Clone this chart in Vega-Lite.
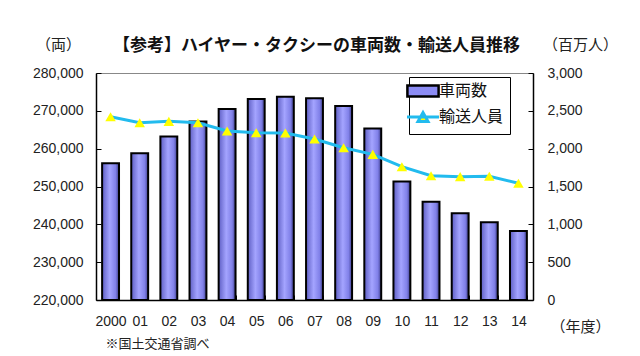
{
  "$schema": "https://vega.github.io/schema/vega-lite/v6.json",
  "width": 437,
  "height": 227,
  "autosize": {"type": "none"},
  "padding": {"left": 96, "top": 73, "right": 107, "bottom": 56},
  "background": "white",
  "title": {
    "text": "【参考】ハイヤー・タクシーの車両数・輸送人員推移",
    "font": "Noto Sans CJK JP",
    "fontSize": 17,
    "fontWeight": "bold",
    "color": "#111",
    "anchor": "middle",
    "dx": 2,
    "offset": -18
  },
  "data": {
    "values": [
      {"label": "2000", "vehicles": 256150, "passengers": 2422, "series": "輸送人員"},
      {"label": "01", "vehicles": 258800, "passengers": 2343, "series": "輸送人員"},
      {"label": "02", "vehicles": 263200, "passengers": 2361, "series": "輸送人員"},
      {"label": "03", "vehicles": 267150, "passengers": 2343, "series": "輸送人員"},
      {"label": "04", "vehicles": 270500, "passengers": 2233, "series": "輸送人員"},
      {"label": "05", "vehicles": 273150, "passengers": 2211, "series": "輸送人員"},
      {"label": "06", "vehicles": 273750, "passengers": 2207, "series": "輸送人員"},
      {"label": "07", "vehicles": 273300, "passengers": 2128, "series": "輸送人員"},
      {"label": "08", "vehicles": 271300, "passengers": 2013, "series": "輸送人員"},
      {"label": "09", "vehicles": 265300, "passengers": 1925, "series": "輸送人員"},
      {"label": "10", "vehicles": 251300, "passengers": 1762, "series": "輸送人員"},
      {"label": "11", "vehicles": 246000, "passengers": 1643, "series": "輸送人員"},
      {"label": "12", "vehicles": 242900, "passengers": 1630, "series": "輸送人員"},
      {"label": "13", "vehicles": 240550, "passengers": 1636, "series": "輸送人員"},
      {"label": "14", "vehicles": 238250, "passengers": 1542, "series": "輸送人員"}
    ]
  },
  "encoding": {
    "x": {
      "field": "label",
      "type": "nominal",
      "sort": null,
      "scale": {"paddingInner": 0.42, "paddingOuter": 0.21},
      "axis": {
        "labelAngle": 0,
        "labelFontSize": 14,
        "labelPadding": 19,
        "tickSize": -5,
        "tickBand": "extent",
        "domainWidth": 1.5,
        "title": "※国土交通省調べ",
        "titleFont": "Noto Sans CJK JP",
        "titleFontSize": 13,
        "titleFontWeight": "normal",
        "titleColor": "#222",
        "titleX": 9,
        "titleY": 43,
        "titleAlign": "left",
        "titleBaseline": "middle"
      }
    }
  },
  "layer": [
    {
      "mark": {
        "type": "bar",
        "fill": {
          "gradient": "linear",
          "x1": 0, "x2": 1, "y1": 0, "y2": 0,
          "stops": [
            {"offset": 0, "color": "#5e5ec4"},
            {"offset": 0.45, "color": "#a4a4ff"},
            {"offset": 0.8, "color": "#8080e8"},
            {"offset": 1, "color": "#3c3c8a"}
          ]
        },
        "stroke": "#000",
        "strokeWidth": 2
      },
      "encoding": {
        "y": {
          "field": "vehicles",
          "type": "quantitative",
          "scale": {"domain": [220000, 280000], "zero": false, "nice": false},
          "axis": {
            "values": [220000, 230000, 240000, 250000, 260000, 270000, 280000],
            "format": ",.0f",
            "labelFontSize": 14,
            "labelPadding": 18,
            "labelOverlap": false,
            "tickSize": -5,
            "domainWidth": 1.5,
            "title": "（両）",
            "titleFont": "Noto Sans CJK JP",
            "titleFontSize": 15,
            "titleFontWeight": "normal",
            "titleColor": "#222",
            "titleAngle": 0,
            "titleX": -38,
            "titleY": -29,
            "titleAlign": "center",
            "titleBaseline": "middle"
          }
        },
        "y2": {"datum": 220000}
      }
    },
    {
      "mark": {"type": "line", "strokeWidth": 3},
      "encoding": {
        "y": {
          "field": "passengers",
          "type": "quantitative",
          "scale": {"domain": [0, 3000], "nice": false},
          "axis": {
            "orient": "right",
            "values": [0, 500, 1000, 1500, 2000, 2500, 3000],
            "format": ",.0f",
            "labelFontSize": 14,
            "labelPadding": 19,
            "labelOverlap": false,
            "tickSize": -5,
            "domainWidth": 1.5,
            "title": ["（百万人）", "（年度）"],
            "titleLineHeight": 282,
            "titleFont": "Noto Sans CJK JP",
            "titleFontSize": 15,
            "titleFontWeight": "normal",
            "titleColor": "#222",
            "titleAngle": 0,
            "titleX": 47,
            "titleY": -29,
            "titleAlign": "center",
            "titleBaseline": "middle"
          }
        },
        "color": {
          "field": "series",
          "type": "nominal",
          "scale": {"domain": ["車両数", "輸送人員"], "range": ["#000000", "#22bbee"]},
          "legend": {
            "orient": "none",
            "legendX": 313,
            "legendY": 4,
            "direction": "vertical",
            "title": null,
            "labelFont": "Noto Sans CJK JP",
            "labelFontSize": 16,
            "labelColor": "#111",
            "labelOffset": 8,
            "symbolSize": 1600,
            "rowPadding": 4,
            "encode": {
              "legend": {
                "enter": {
                  "stroke": {"value": "#000000"},
                  "strokeWidth": {"value": 1}
                },
                "update": {
                  "stroke": {"value": "#000000"},
                  "strokeWidth": {"value": 1}
                }
              },
              "symbols": {
                "update": {
                  "shape": {"signal": "datum.value === '車両数' ? 'M-0.78,-0.28H0.78V0.28H-0.78Z' : 'M-0.8,0H0.8M-0.25,0.22L0,-0.22L0.25,0.22Z'"},
                  "fill": {"signal": "datum.value === '車両数' ? '#8c8cf4' : '#ffff00'"},
                  "strokeWidth": {"signal": "datum.value === '車両数' ? 2.5 : 3"},
                  "opacity": {"value": 1},
                  "fillOpacity": {"value": 1},
                  "strokeOpacity": {"value": 1}
                }
              }
            }
          }
        }
      }
    },
    {
      "mark": {"type": "point", "shape": "triangle-up", "filled": true, "color": "#ffff00", "size": 110, "opacity": 1},
      "encoding": {
        "y": {"field": "passengers", "type": "quantitative", "scale": {"domain": [0, 3000], "nice": false}, "axis": null}
      }
    }
  ],
  "resolve": {"scale": {"y": "independent"}},
  "config": {
    "view": {"stroke": "#888", "strokeWidth": 1},
    "legend": {"strokeColor": "#000000", "fillColor": "#ffffff", "padding": 6, "cornerRadius": 0},
    "axis": {
      "labelFont": "Liberation Sans",
      "labelColor": "#222",
      "domainColor": "#000",
      "tickColor": "#000",
      "grid": false
    }
  }
}
